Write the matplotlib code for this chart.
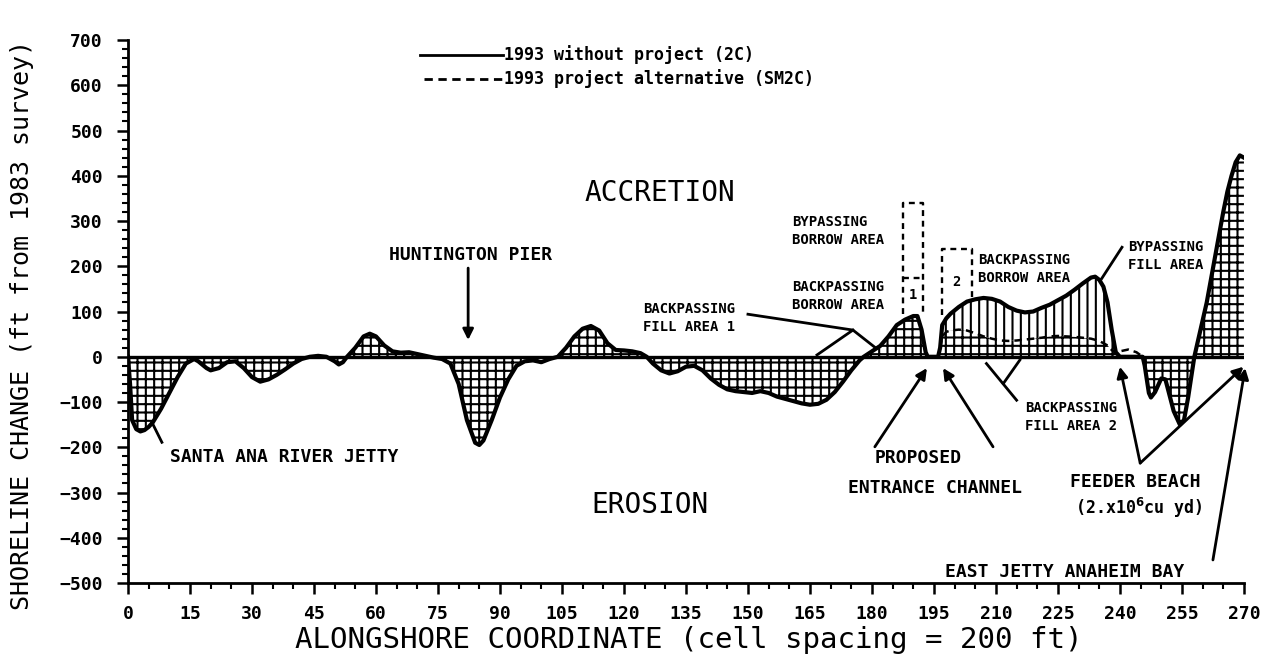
import matplotlib
matplotlib.use("Agg")
import matplotlib.pyplot as plt
import numpy as np

# Alongshore position (cell number) and shoreline change for 1993 without project (2C)
cell = [0, 0.5, 1, 2, 3, 4, 5, 6, 8, 10, 12, 14, 16, 17, 19, 20, 22, 24, 26, 28,
        30, 32, 34, 36, 38, 40, 42, 44, 46, 48, 50, 51, 52, 53, 55, 57, 58.5, 60, 62, 64,
        66, 68, 70, 72, 74, 76, 78, 80, 82, 84, 85, 86, 88, 90, 92, 94, 96, 98, 100, 102,
        104, 106, 108, 110, 112, 114, 116, 118, 120, 122, 124, 125.5, 127, 129, 131, 133, 135, 137, 139, 141,
        143, 145, 147, 149, 151, 153, 155, 157, 159, 161, 163, 165, 167, 169, 171, 173, 175, 177, 178, 180,
        182, 184, 186, 188, 190, 191, 192, 193, 193.5, 196, 196.5, 197, 198, 199, 201, 203, 205, 207, 209, 211,
        213, 215, 217, 219, 221, 223, 225, 227, 229, 231, 233, 234, 235, 236, 237, 238, 239, 240, 242, 244,
        245.5, 246, 247, 247.5, 248.5, 250, 251, 252, 253, 254.5, 255.5, 256.5, 257.5, 258, 259, 260, 261, 262, 263, 264,
        265, 266, 267, 268, 269, 270]
without_project = [0, -60, -140, -160, -165, -162, -155, -145, -115, -80, -45, -15, -5, -10, -25, -30, -25, -12, -10, -25,
                   -45, -55, -50, -40, -28, -15, -5, 0, 2, 0, -10, -17, -12, 0, 20, 45, 51, 45, 25, 12,
                   9, 10, 6, 2, -2, -5, -15, -60, -140, -190, -195, -185, -140, -90, -50, -20, -10, -8, -12, -5,
                   0, 20, 45, 62, 68, 58, 30, 15, 14, 12, 8, 0, -15, -30, -37, -32, -22, -20, -30, -48,
                   -62, -72, -76, -78, -80, -76, -80, -88, -93, -98, -103, -106, -104, -95, -78, -55, -30, -8, 0, 12,
                   24, 45, 70, 82, 90, 90, 60, 10, 0, 0, 20, 70, 85, 95, 110, 122, 127, 130, 128, 122,
                   110, 102, 98, 100, 108, 115, 125, 135, 148, 162, 175, 177, 170, 155, 120, 60, 10, 0, 0, 0,
                   0, -20, -80, -90, -78, -48, -50, -85, -120, -150, -140, -90, -30, 0, 40, 80, 120, 170, 220, 270,
                   320, 365, 400, 430, 445, 440]

# 1993 project alternative (SM2C), where it departs from the no-project shoreline
alt_cell = [196.5, 197, 198, 199, 201, 203, 205, 207, 209, 211, 213, 215, 217, 219, 221, 223, 225, 227, 229, 231,
            233, 235, 237, 238, 239, 240, 242, 244, 245.5]
project_alternative = [20, 45, 55, 58, 60, 58, 52, 45, 40, 36, 35, 36, 38, 40, 42, 45, 46, 45, 44, 42,
                       40, 35, 25, 15, 8, 12, 16, 10, 0]

x_ticks = list(range(0, 271, 15))
y_ticks = list(range(-500, 701, 100))

MONO = "DejaVu Sans Mono"
plt.rcParams["hatch.linewidth"] = 1.5
plt.rcParams["font.family"] = MONO

fig = plt.figure(figsize=(12.71, 6.57), dpi=100)
ax = fig.add_axes([0.1007, 0.1126, 0.878, 0.8265])
ax.set_xlim(0, 270)
ax.set_ylim(-500, 700)

x = np.array(cell, dtype=float)
s = np.array(without_project, dtype=float)
xa = np.array(alt_cell, dtype=float)
p = np.array(project_alternative, dtype=float)
lookup = dict(zip(cell, without_project))
s_at_alt = np.array([lookup[c] for c in alt_cell], dtype=float)

# hatched change areas
ax.fill_between(x, 0, s, facecolor="white", edgecolor="black", hatch="++", linewidth=0, zorder=2)
ax.fill_between(xa, p, s_at_alt, where=s_at_alt > p, facecolor="white", edgecolor="black",
                hatch="||", linewidth=0, zorder=2.5, interpolate=True)

ax.axhline(0, color="black", lw=2.4, zorder=3)
ax.plot(x, s, color="black", lw=3.0, zorder=4, solid_joinstyle="round")
ax.plot(xa, p, color="black", lw=1.8, ls=(0, (3, 2)), zorder=4)

# borrow area boxes
dash = dict(color="black", lw=1.7, ls=(0, (2.5, 2)), zorder=5)
ax.plot([187.6, 187.6, 192.4, 192.4], [95, 340, 340, 95], **dash)
ax.plot([187.6, 192.4], [175, 175], **dash)
ax.plot([196.9, 196.9, 204.2, 204.2], [92, 238, 238, 128], **dash)
ax.text(190.0, 136, "1", ha="center", va="center", fontsize=10, fontweight="bold")
ax.text(200.5, 166, "2", ha="center", va="center", fontsize=10, fontweight="bold")

# axes styling
for side in ("top", "right"):
    ax.spines[side].set_visible(False)
for side in ("left", "bottom"):
    ax.spines[side].set_linewidth(2.0)
ax.set_xticks(x_ticks)
ax.set_xticks(range(0, 271, 5), minor=True)
ax.set_yticks(y_ticks)
ax.set_yticks(range(-500, 701, 20), minor=True)
ax.tick_params(which="major", direction="out", length=8, width=1.8, labelsize=13, pad=8)
ax.tick_params(which="minor", direction="out", length=4, width=1.5)
ax.tick_params(axis="y", pad=10)
for lab in ax.get_xticklabels() + ax.get_yticklabels():
    lab.set_fontweight("bold")

fig.text(22 / 1271, 1 - 325 / 657, "SHORELINE CHANGE (ft from 1983 survey)", rotation=90,
         ha="center", va="center", fontsize=18)
fig.text(689 / 1271, 1 - 640 / 657, "ALONGSHORE COORDINATE (cell spacing = 200 ft)",
         ha="center", va="center", fontsize=21)

# key
ax.plot([70.6, 90.7], [667, 667], color="black", lw=2, clip_on=False)
ax.plot([71.5, 90.7], [614, 614], color="black", lw=2, ls=(0, (3, 2)), clip_on=False)
ax.text(90.9, 667, "1993 without project (2C)", va="center", ha="left", fontsize=12, fontweight="bold")
ax.text(90.9, 614, "1993 project alternative (SM2C)", va="center", ha="left", fontsize=12, fontweight="bold")

ax.text(128.7, 362, "ACCRETION", ha="center", va="center", fontsize=20)
ax.text(126.3, -328, "EROSION", ha="center", va="center", fontsize=20)

bold = dict(fontweight="bold", fontsize=13)
small = dict(fontweight="bold", fontsize=10, linespacing=1.35)
ax.text(83, 225, "HUNTINGTON PIER", ha="center", va="center", **bold)
ax.text(10.2, -221, "SANTA ANA RIVER JETTY", ha="left", va="center", **bold)
ax.text(191.1, -224, "PROPOSED", ha="center", va="center", **bold)
ax.text(195.3, -290, "ENTRANCE CHANNEL", ha="center", va="center", **bold)
ax.text(243.6, -277, "FEEDER BEACH", ha="center", va="center", **bold)
ax.text(244.5, -334, r"(2.x10$^{\mathbf{6}}$cu yd)", ha="center", va="center", fontsize=12, fontweight="bold")
ax.text(226.7, -476, "EAST JETTY ANAHEIM BAY", ha="center", va="center", **bold)

ax.text(160.7, 277, "BYPASSING\nBORROW AREA", ha="left", va="center", **small)
ax.text(160.7, 134, "BACKPASSING\nBORROW AREA", ha="left", va="center", **small)
ax.text(124.6, 86, "BACKPASSING\nFILL AREA 1", ha="left", va="center", **small)
ax.text(205.7, 194, "BACKPASSING\nBORROW AREA", ha="left", va="center", **small)
ax.text(242.0, 223, "BYPASSING\nFILL AREA", ha="left", va="center", **small)
ax.text(217.0, -134, "BACKPASSING\nFILL AREA 2", ha="left", va="center", **small)

arrow = dict(arrowstyle="-|>", color="black", lw=2, mutation_scale=16, shrinkA=0, shrinkB=0)
plain = dict(color="black", lw=2, zorder=6, clip_on=False)

ax.annotate("", xy=(82.3, 37), xytext=(82.3, 196), arrowprops=arrow)
ax.plot([8.2, 5.8], [-189, -145], **plain)
ax.annotate("", xy=(193.3, -25), xytext=(180.7, -199), arrowprops=arrow)
ax.annotate("", xy=(197.2, -25), xytext=(209.3, -199), arrowprops=arrow)
ax.plot([150.0, 175.4, 180.7], [94, 59, 21], **plain)
ax.plot([175.4, 166.7], [59, 4], **plain)
ax.plot([240.5, 235.6], [242, 173], **plain)
ax.plot([215.0, 207.7], [-96, -15], **plain)
ax.plot([211.8, 215.8], [-59, -7], **plain)
ax.annotate("", xy=(240.0, -22), xytext=(244.9, -235), arrowprops=arrow)
ax.annotate("", xy=(269.9, -22), xytext=(244.9, -235), arrowprops=arrow, annotation_clip=False)
ax.annotate("", xy=(270.3, -25), xytext=(262.5, -449), arrowprops=arrow, annotation_clip=False)

fig.savefig("out.png", dpi=100, facecolor="white")
